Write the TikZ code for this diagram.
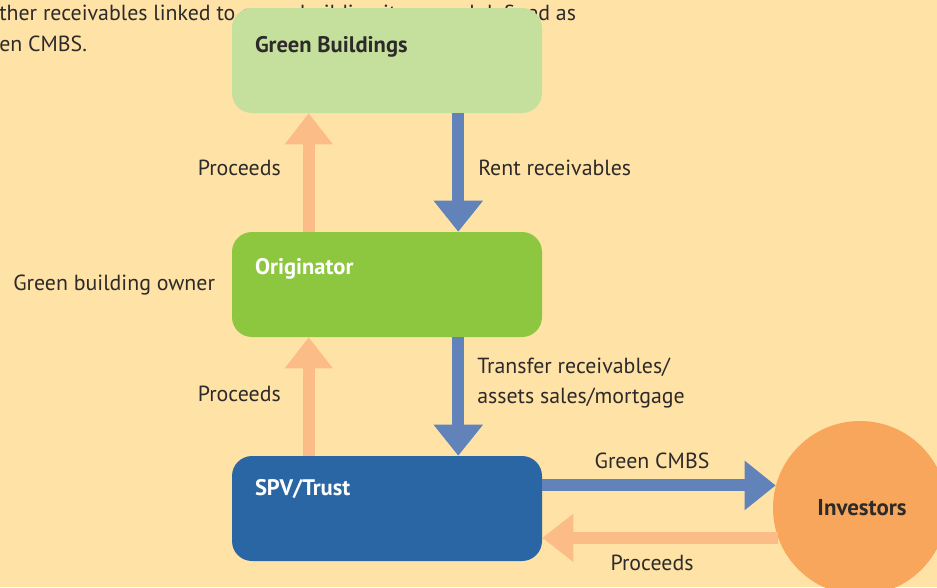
\documentclass[tikz,border=0pt]{standalone}
\usepackage{fontspec}
\setmainfont{PT Sans}
\usetikzlibrary{arrows.meta}

\definecolor{paper}{RGB}{255,226,166}
\definecolor{ink}{RGB}{45,42,42}
\definecolor{gbfill}{RGB}{197,224,157}
\definecolor{origfill}{RGB}{141,198,63}
\definecolor{spvfill}{RGB}{41,102,163}
\definecolor{invfill}{RGB}{248,166,92}
\definecolor{paidfill}{RGB}{251,188,135}
\definecolor{flowfill}{RGB}{98,130,186}

\begin{document}
\begin{tikzpicture}[x=0.75pt,y=-0.75pt]

  \tikzstyle{box}=[rounded corners=15pt, inner sep=0pt, minimum width=232.5pt, minimum height=78.75pt]
  \tikzstyle{boxtext}=[anchor=west, inner sep=0pt, font=\fontsize{16.9}{20}\selectfont\bfseries]
  \tikzstyle{txt}=[inner sep=0pt, text=ink, font=\fontsize{16.4}{22.5}\selectfont]
  \tikzstyle{paid}=[draw=paidfill, line width=9pt, -{Triangle[length=23.25pt, width=34.5pt]}]
  \tikzstyle{flow}=[draw=flowfill, line width=9pt, -{Triangle[length=23.25pt, width=35.5pt]}]

  \clip (0,0) rectangle (937,587);
  \fill[paper] (0,0) rectangle (937,587);

  \node [txt, anchor=west] (intro1) at (-1,15) {ther receivables linked to green building items and defined as};
  \node [txt, anchor=west] (intro2) at (-1,44) {en CMBS.};

  \node [box, fill=gbfill, label={[boxtext, text=ink, xshift=17.25pt, yshift=10.6pt]west:Green Buildings}] (gb) at (387,60.5) {};
  \node [box, fill=origfill, label={[boxtext, text=white, xshift=17.25pt, yshift=11.6pt]west:Originator}] (orig) at (387,284.5) {};
  \node [box, fill=spvfill, label={[boxtext, text=white, xshift=17.25pt, yshift=14.6pt]west:SPV/Trust}] (spv) at (387,508.5) {};
  \node [circle, fill=invfill, minimum size=130.5pt, inner sep=0pt, text=ink, font=\fontsize{17.2}{20}\selectfont\bfseries] (inv) at (860,508) {\hspace*{3pt}Investors};

  \draw[paid] ([xshift=57.75pt]orig.north west) -- ([xshift=57.75pt]gb.south west);
  \draw[flow] ([xshift=-63pt]gb.south east) -- ([xshift=-63pt]orig.north east);
  \draw[paid] ([xshift=57.75pt]spv.north west) -- ([xshift=57.75pt]orig.south west);
  \draw[flow] ([xshift=-63pt]orig.south east) -- ([xshift=-63pt]spv.north east);
  \draw[flow] (spv.east |- inv.165) -- (inv.165);
  \draw[paid] (inv.200) -- (spv.east |- inv.200);

  \node [txt, anchor=east] (paid1) at (281,168) {Proceeds};
  \node [txt, anchor=west] (rent) at (478,168) {Rent receivables};
  \node [txt, anchor=west] (owner) at (13,285) {Green building owner};
  \node [txt, anchor=east] (paid2) at (281,394) {Proceeds};
  \node [txt, anchor=west, align=left] (transfer) at (477,383) {Transfer receivables/\\assets sales/mortgage};
  \node [txt] (cmbs) at (652,461) {Green CMBS};
  \node [txt] (paid3) at (652,563) {Proceeds};
\end{tikzpicture}
\end{document}
